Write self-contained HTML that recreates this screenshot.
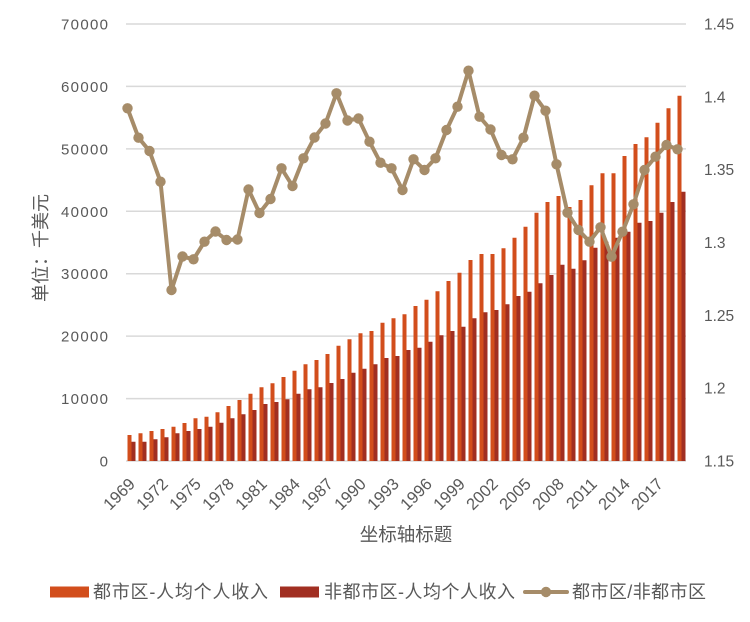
<!DOCTYPE html>
<html><head><meta charset="utf-8"><style>
html,body{margin:0;padding:0;background:#fff;}
svg{display:block;}
text{font-family:"Liberation Sans","Noto Sans CJK SC",sans-serif;fill:#595959;}
</style></head><body>
<svg width="750" height="622" viewBox="0 0 750 622" xmlns="http://www.w3.org/2000/svg">
<defs>
<marker id="dot" viewBox="0 0 12 12" refX="6" refY="6" markerWidth="12" markerHeight="12" markerUnits="userSpaceOnUse"><circle cx="6" cy="6" r="5.2" fill="#A68C69"/></marker>
</defs>
<path stroke="#D9D9D9" stroke-width="1.5" fill="none" d="M126 24H686M126 86.4H686M126 148.9H686M126 211.3H686M126 273.7H686M126 336.1H686M126 398.6H686M126 461H686"/>
<path stroke="#D24E1C" stroke-width="4" fill="none" d="M129.5 461V435M140.5 461V433.3M151.5 461V431M162.5 461V429M173.5 461V426.7M184.5 461V423M195.5 461V418.3M206.5 461V416.7M217.5 461V412.3M228.5 461V406M239.5 461V400M250.5 461V393.7M261.5 461V387.3M272.5 461V383.3M283.5 461V377M294.5 461V370.7M305.5 461V364.3M316.5 461V360M327.5 461V354M338.5 461V345.7M349.5 461V339.3M360.5 461V333.3M371.5 461V331M382.5 461V322.7M393.5 461V318.3M404.5 461V314.3M415.5 461V306M426.5 461V299.7M437.5 461V291.3M448.5 461V281M459.5 461V272.7M470.5 461V260M481.5 461V254M492.5 461V254M503.5 461V248.3M514.5 461V237.7M525.5 461V226.7M536.5 461V212.7M547.5 461V202M558.5 461V196M569.5 461V207M580.5 461V200M591.5 461V185.3M602.5 461V173.3M613.5 461V173.3M624.5 461V156M635.5 461V144M646.5 461V137.3M657.5 461V122.7M668.5 461V108.3M679.5 461V95.7"/>
<path stroke="#A12F22" stroke-width="4" fill="none" d="M133.5 461V441.7M144.5 461V441.7M155.5 461V439.3M166.5 461V437.3M177.5 461V433.3M188.5 461V431M199.5 461V429M210.5 461V426.7M221.5 461V422.7M232.5 461V418.3M243.5 461V414.3M254.5 461V410M265.5 461V404M276.5 461V402M287.5 461V399.3M298.5 461V393.7M309.5 461V389.3M320.5 461V387.3M331.5 461V383M342.5 461V379M353.5 461V372.7M364.5 461V368.7M375.5 461V364.3M386.5 461V358M397.5 461V356M408.5 461V350M419.5 461V347.7M430.5 461V341.7M441.5 461V335.3M452.5 461V331M463.5 461V326.7M474.5 461V318.3M485.5 461V312.3M496.5 461V310M507.5 461V304.3M518.5 461V296M529.5 461V291.7M540.5 461V283.3M551.5 461V275M562.5 461V264.7M573.5 461V268.7M584.5 461V260.3M595.5 461V247.7M606.5 461V241.7M617.5 461V237.7M628.5 461V231.7M639.5 461V222.7M650.5 461V221M661.5 461V212.7M672.5 461V202M683.5 461V191.7"/>
<polyline fill="none" stroke="#A68C69" stroke-width="4" stroke-linejoin="round" stroke-linecap="round" marker-start="url(#dot)" marker-mid="url(#dot)" marker-end="url(#dot)" points="127.5,108.3 138.5,137.7 149.5,151 160.5,181.7 171.5,290 182.5,256.5 193.5,259.3 204.5,241.7 215.5,231.5 226.5,240 237.5,239.5 248.5,189.5 259.5,213 270.5,199 281.5,168.3 292.5,186 303.5,158.3 314.5,137.5 325.5,123.5 336.5,93.3 347.5,120.5 358.5,118.5 369.5,141.7 380.5,162.7 391.5,168.3 402.5,190 413.5,159.3 424.5,170 435.5,158.3 446.5,130 457.5,106.7 468.5,70.7 479.5,116.7 490.5,129.5 501.5,155 512.5,159.3 523.5,137.7 534.5,95.7 545.5,110.7 556.5,164.3 567.5,212.7 578.5,230 589.5,241.7 600.5,227.3 611.5,256.7 622.5,231.7 633.5,204.3 644.5,170 655.5,156.7 666.5,145 677.5,149.3"/>
<g font-size="15" text-anchor="end">
<text x="108" y="29.5" textLength="47" lengthAdjust="spacing">70000</text>
<text x="108" y="91.9" textLength="47" lengthAdjust="spacing">60000</text>
<text x="108" y="154.4" textLength="47" lengthAdjust="spacing">50000</text>
<text x="108" y="216.8" textLength="47" lengthAdjust="spacing">40000</text>
<text x="108" y="279.2" textLength="47" lengthAdjust="spacing">30000</text>
<text x="108" y="341.6" textLength="47" lengthAdjust="spacing">20000</text>
<text x="108" y="404.1" textLength="47" lengthAdjust="spacing">10000</text>
<text x="108" y="466.5">0</text>
</g>
<g font-size="15.5">
<text x="704" y="29.5">1.45</text>
<text x="704" y="102.3">1.4</text>
<text x="704" y="175.2">1.35</text>
<text x="704" y="248">1.3</text>
<text x="704" y="320.8">1.25</text>
<text x="704" y="393.7">1.2</text>
<text x="704" y="466.5">1.15</text>
</g>
<g font-size="16.5" text-anchor="end">
<text transform="translate(136,485) rotate(-45)">1969</text>
<text transform="translate(169,485) rotate(-45)">1972</text>
<text transform="translate(202,485) rotate(-45)">1975</text>
<text transform="translate(235,485) rotate(-45)">1978</text>
<text transform="translate(268,485) rotate(-45)">1981</text>
<text transform="translate(301,485) rotate(-45)">1984</text>
<text transform="translate(334,485) rotate(-45)">1987</text>
<text transform="translate(367,485) rotate(-45)">1990</text>
<text transform="translate(400,485) rotate(-45)">1993</text>
<text transform="translate(433,485) rotate(-45)">1996</text>
<text transform="translate(466,485) rotate(-45)">1999</text>
<text transform="translate(499,485) rotate(-45)">2002</text>
<text transform="translate(532,485) rotate(-45)">2005</text>
<text transform="translate(565,485) rotate(-45)">2008</text>
<text transform="translate(598,485) rotate(-45)">2011</text>
<text transform="translate(631,485) rotate(-45)">2014</text>
<text transform="translate(664,485) rotate(-45)">2017</text>
</g>
<text x="406" y="541" font-size="18.5" text-anchor="middle">坐标轴标题</text>
<text transform="translate(47,248) rotate(-90)" font-size="18" text-anchor="middle">单位：千美元</text>
<rect x="50" y="586.5" width="39" height="11" fill="#D24E1C"/>
<text x="93" y="598" font-size="18" textLength="175" lengthAdjust="spacing">都市区-人均个人收入</text>
<rect x="280" y="586.5" width="39" height="11" fill="#A12F22"/>
<text x="324" y="598" font-size="18" textLength="191" lengthAdjust="spacing">非都市区-人均个人收入</text>
<line x1="525" y1="592" x2="567" y2="592" stroke="#A68C69" stroke-width="4" stroke-linecap="round"/>
<circle cx="546" cy="592" r="5.2" fill="#A68C69"/>
<text x="572" y="598" font-size="18" textLength="134" lengthAdjust="spacing">都市区/非都市区</text>
</svg>
</body></html>
